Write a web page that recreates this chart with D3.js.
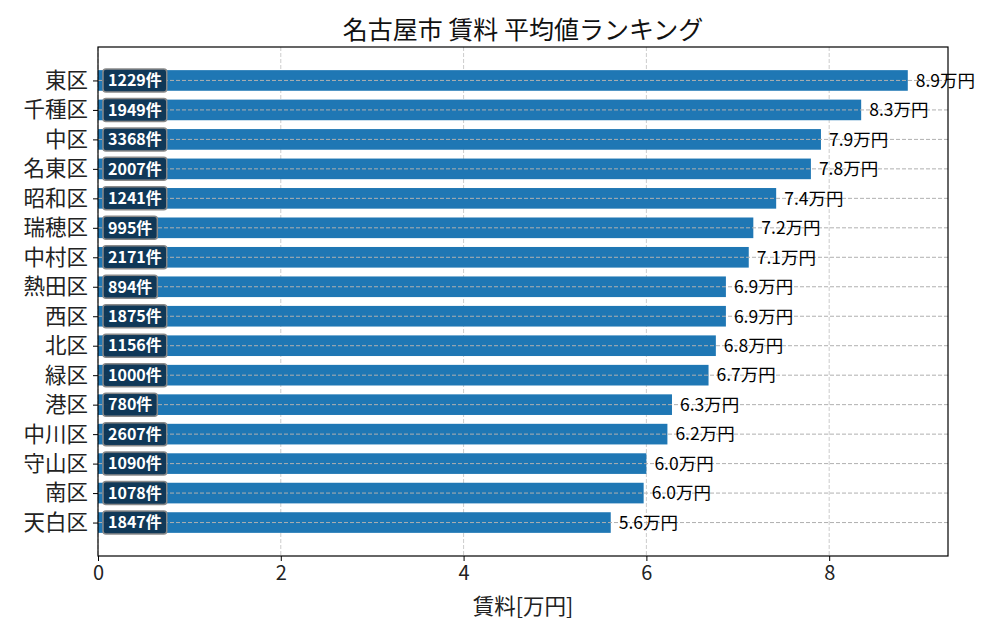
<!DOCTYPE html>
<html><head><meta charset="utf-8">
<script src="https://cdn.jsdelivr.net/npm/d3@7"></script>
<style>
body{margin:0;background:#fff;}
text{font-family:"Noto Sans CJK JP","Noto Sans",sans-serif;}
</style></head>
<body><svg id="c" width="1000" height="640"></svg>
<script>
const wards = ["東区","千種区","中区","名東区","昭和区","瑞穂区","中村区","熱田区","西区","北区","緑区","港区","中川区","守山区","南区","天白区"];
const rents = [8.86,8.35,7.91,7.80,7.42,7.17,7.12,6.87,6.87,6.76,6.68,6.28,6.23,6.00,5.97,5.61];
const counts = [1229,1949,3368,2007,1241,995,2171,894,1875,1156,1000,780,2607,1090,1078,1847];
const xTicks = [0,2,4,6,8];
const title = "名古屋市 賃料 平均値ランキング";
const xLabel = "賃料[万円]";

const svg = d3.select("#c");
const L=98, R=948, T=47, B=556;
const x = d3.scaleLinear().domain([0,9.3]).range([L,R]);
const y = d3.scaleLinear().domain([-1.135,16.135]).range([T,B]);
const barH = 0.7;

// vertical grid
svg.append("g").selectAll("line").data(xTicks).join("line")
  .attr("x1",d=>x(d)).attr("x2",d=>x(d)).attr("y1",T).attr("y2",B)
  .attr("stroke","#cccccc").attr("stroke-width",1).attr("stroke-dasharray","4,2");

// bars
svg.append("g").selectAll("rect").data(wards).join("rect")
  .attr("x",x(0)).attr("y",(d,i)=>y(i-barH/2))
  .attr("width",(d,i)=>x(rents[i])-x(0)).attr("height",y(barH)-y(0))
  .attr("fill","#1f77b4");

// horizontal grid (on top)
svg.append("g").selectAll("line").data(wards).join("line")
  .attr("x1",L).attr("x2",R).attr("y1",(d,i)=>y(i)).attr("y2",(d,i)=>y(i))
  .attr("stroke","#b0b0b0").attr("stroke-width",1).attr("stroke-dasharray","4,2");

// count badges
const badges = svg.append("g").selectAll("g").data(wards).join("g")
  .attr("transform",(d,i)=>`translate(${x(0)+5},${y(i)})`);
badges.append("rect").attr("x",0).attr("y",-11.5).attr("height",23)
  .attr("rx",3).attr("fill","#0f3553").attr("fill-opacity",0.95)
  .attr("stroke","#8a8a8a").attr("stroke-width",1.5);
const bText = badges.append("text").attr("x",5).attr("y",0).attr("dy","0.36em")
  .attr("fill","#fff").attr("font-weight","bold")
  .attr("font-size",16).text((d,i)=>counts[i]+"件");
bText.each(function(d,i){
  const w = this.getComputedTextLength();
  d3.select(this.parentNode).select("rect").attr("width",w+10);
});

// value labels
svg.append("g").selectAll("text").data(wards).join("text")
  .attr("x",(d,i)=>x(rents[i])+8).attr("y",(d,i)=>y(i)).attr("dy","0.36em")
  .attr("font-size",17.5).attr("fill","#000")
  .text((d,i)=>rents[i].toFixed(1)+"万円");

// frame
svg.append("rect").attr("x",L).attr("y",T).attr("width",R-L).attr("height",B-T)
  .attr("fill","none").attr("stroke","#000").attr("stroke-width",1.2);

// x axis
const xa = svg.append("g").attr("transform",`translate(0,${B})`)
  .call(d3.axisBottom(x).tickValues(xTicks).tickFormat(d3.format("d")).tickSize(5).tickPadding(5));
xa.select(".domain").remove();
xa.selectAll("text").attr("font-size",20).attr("fill","#222").style("font-family","'Noto Sans CJK JP',sans-serif");
xa.selectAll("line").attr("stroke","#000");

// y axis
const ya = svg.append("g").attr("transform",`translate(${L},0)`)
  .call(d3.axisLeft(y).tickValues(d3.range(wards.length)).tickFormat(i=>wards[i]).tickSize(5).tickPadding(5));
ya.select(".domain").remove();
ya.selectAll("text").attr("font-size",21.5).attr("fill","#222").style("font-family","'Noto Sans CJK JP',sans-serif");
ya.selectAll("line").attr("stroke","#000");

// title
svg.append("text").attr("x",(L+R)/2).attr("y",39).attr("text-anchor","middle")
  .attr("font-size",25).attr("fill","#111").text(title);
// x label
svg.append("text").attr("x",(L+R)/2).attr("y",614).attr("text-anchor","middle")
  .attr("font-size",21.5).attr("fill","#222").text(xLabel);
</script></body></html>
